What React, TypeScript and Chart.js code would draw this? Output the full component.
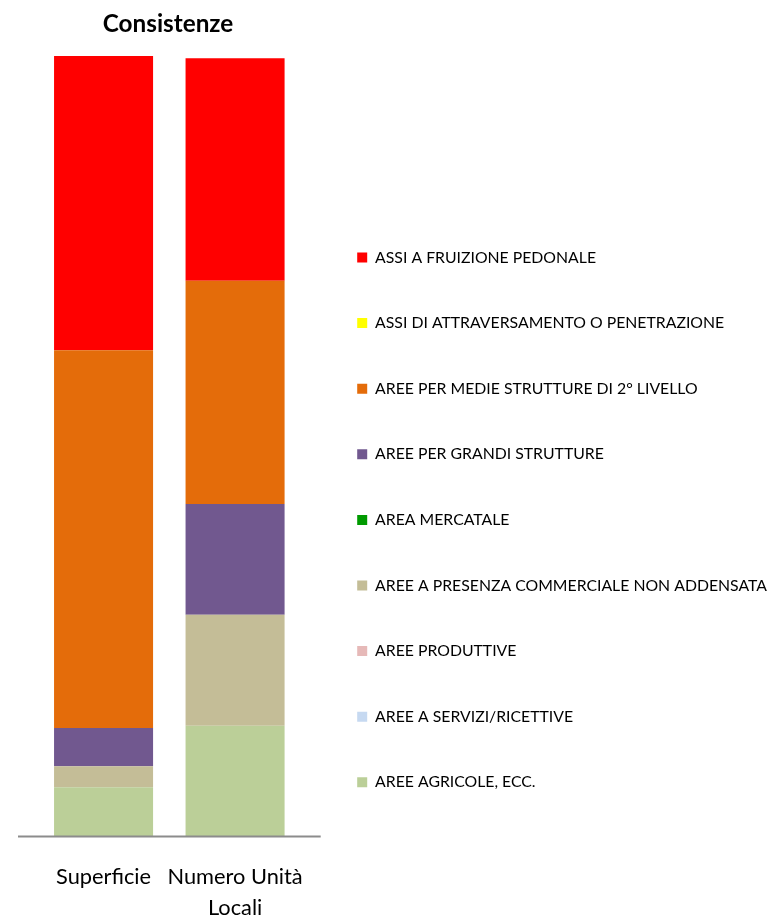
import React, { useEffect, useRef } from 'react';
import { Chart, registerables } from 'chart.js';

Chart.register(...registerables);

// Category tick labels (x positions 0 and 1)
const categories: string[][] = [['Superficie'], ['Numero Unità', 'Locali']];

// Series, in stacking order (bottom → top)
const seriesNames = [
  'AREE AGRICOLE, ECC.',
  'AREE A SERVIZI/RICETTIVE',
  'AREE PRODUTTIVE',
  'AREE A PRESENZA COMMERCIALE NON ADDENSATA',
  'AREA MERCATALE',
  'AREE PER GRANDI STRUTTURE',
  'AREE PER MEDIE STRUTTURE DI 2° LIVELLO',
  'ASSI DI ATTRAVERSAMENTO O PENETRAZIONE',
  'ASSI A FRUIZIONE PEDONALE',
];

const agricole = [6.3, 14.2];
const servizi = [0, 0];
const produttive = [0, 0];
const presenzaCommerciale = [2.7, 14.2];
const mercatale = [0, 0];
const grandiStrutture = [4.9, 14.2];
const medieStrutture = [48.4, 28.6];
const attraversamento = [0, 0];
const pedonale = [37.7, 28.5];

const seriesValues = [
  agricole,
  servizi,
  produttive,
  presenzaCommerciale,
  mercatale,
  grandiStrutture,
  medieStrutture,
  attraversamento,
  pedonale,
];

const seriesColors = [
  '#BBCF98',
  '#C6D9F1',
  '#E6B9B8',
  '#C4BD97',
  '#009A00',
  '#71588F',
  '#E46C0A',
  '#FFFF00',
  '#FF0000',
];

const baselinePlugin = {
  id: 'baselineExt',
  afterDatasetsDraw(chart: any) {
    const { ctx, chartArea } = chart;
    const y = chart.scales.y.getPixelForValue(0);
    ctx.save();
    ctx.strokeStyle = '#8C8C8C';
    ctx.lineWidth = 2;
    ctx.beginPath();
    ctx.moveTo(chartArea.left - 10.6, y);
    ctx.lineTo(chartArea.right + 13.3, y);
    ctx.stroke();
    ctx.restore();
  },
};

export default function App() {
  const canvasRef = useRef<HTMLCanvasElement | null>(null);

  useEffect(() => {
    let chart: Chart | null = null;
    let cancelled = false;

    const build = () => {
      if (cancelled || !canvasRef.current) return;
      chart = new Chart(canvasRef.current, {
        type: 'bar',
        data: {
          datasets: seriesNames.map((name, i) => ({
            label: name,
            data: seriesValues[i].map((v, j) => ({ x: j, y: v })),
            backgroundColor: seriesColors[i],
            borderWidth: 0,
            barPercentage: 0.753,
            categoryPercentage: 1,
          })),
        },
        options: {
          responsive: false,
          animation: false,
          devicePixelRatio: 1,
          layout: { padding: { left: 28.6, right: 0, top: 0, bottom: 0 } },
          scales: {
            x: {
              type: 'linear',
              min: -0.57,
              max: 1.55,
              offset: false,
              stacked: true,
              grid: { display: false, drawTicks: false, offset: false },
              border: { display: false },
              ticks: {
                color: '#000',
                font: { family: 'Lato', size: 21.8, lineHeight: 1.42 },
                padding: 25,
                autoSkip: false,
                maxRotation: 0,
                callback: (v: any) => {
                  const c = categories[v as number];
                  return c ? c : '';
                },
              },
              afterBuildTicks: (s: any) => {
                s.ticks = categories.map((_, i) => ({ value: i }));
              },
              afterFit: (s: any) => {
                s.height = 78.5;
              },
            },
            y: {
              stacked: true,
              min: 0,
              max: 100,
              display: false,
            },
          },
          plugins: {
            title: {
              display: true,
              text: 'Consistenze',
              fullSize: false,
              color: '#000',
              font: { family: 'Lato', size: 24.3, weight: 'bold' },
              padding: { top: 9.6, bottom: 17.2 },
            },
            legend: {
              display: true,
              position: 'right',
              align: 'start',
              reverse: true,
              maxWidth: 462.6,
              title: {
                display: true,
                text: ' ',
                font: { size: 12 },
                padding: { top: 185.4, bottom: 0 },
              },
              labels: {
                boxWidth: 10,
                boxHeight: 10,
                padding: 49.8,
                color: '#000',
                font: { family: 'Lato', size: 15.8 },
              },
            },
            tooltip: { enabled: false },
          },
        },
        plugins: [baselinePlugin],
      } as any);
    };

    const fontsReady = (document as any).fonts
      ? Promise.all([
          (document as any).fonts.load('16px Lato'),
          (document as any).fonts.load('bold 24px Lato'),
          (document as any).fonts.load('22px Lato'),
        ]).catch(() => null)
      : Promise.resolve(null);
    fontsReady.then(build);

    return () => {
      cancelled = true;
      if (chart) chart.destroy();
    };
  }, []);

  return (
    <div style={{ position: 'absolute', left: 0, top: 0, width: 770, height: 915, overflow: 'hidden', background: '#fff' }}>
      <canvas ref={canvasRef} width={770} height={915} style={{ display: 'block' }} />
    </div>
  );
}
